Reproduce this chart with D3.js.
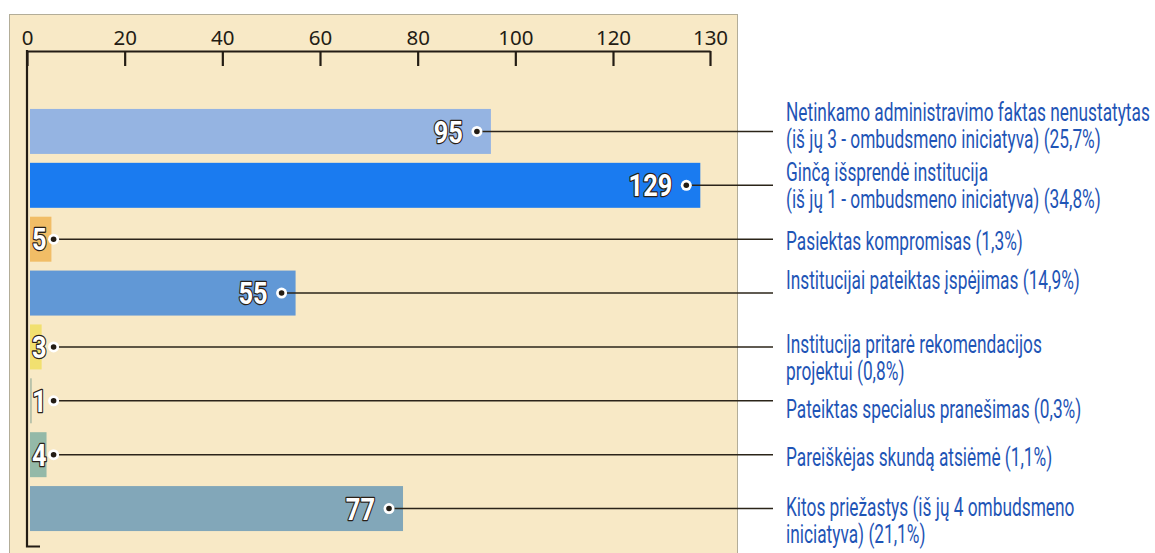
<!DOCTYPE html>
<html>
<head>
<meta charset="utf-8">
<script src="https://cdn.jsdelivr.net/npm/d3@7.9.0/dist/d3.min.js"></script>
<style>
  html, body { margin: 0; padding: 0; background: #fff; }
  svg { display: block; }
  .tick text { font-family: "Noto Sans", sans-serif; font-size: 20.5px; fill: #231c14; }
  .val { font-family: Roboto, "DejaVu Sans", sans-serif; font-weight: bold; font-size: 31px;
         fill: #fff; stroke: #2a2118; stroke-width: 2.6px; paint-order: stroke; stroke-linejoin: round; }
  .lab { font-family: Roboto, "DejaVu Sans", sans-serif; font-size: 25px; fill: #1f55b6; }
</style>
</head>
<body>
<svg id="chart" width="1155" height="553"></svg>
<script>
// data
const categories = [
  'Netinkamo administravimo faktas nenustatytas (iš jų 3 - ombudsmeno iniciatyva) (25,7%)',
  'Ginčą išsprendė institucija (iš jų 1 - ombudsmeno iniciatyva) (34,8%)',
  'Pasiektas kompromisas (1,3%)',
  'Institucijai pateiktas įspėjimas (14,9%)',
  'Institucija pritarė rekomendacijos projektui (0,8%)',
  'Pateiktas specialus pranešimas (0,3%)',
  'Pareiškėjas skundą atsiėmė (1,1%)',
  'Kitos priežastys (iš jų 4 ombudsmeno iniciatyva) (21,1%)'
];
const labelLines = [
  ['Netinkamo administravimo faktas nenustatytas', '(iš jų 3 - ombudsmeno iniciatyva) (25,7%)'],
  ['Ginčą išsprendė institucija', '(iš jų 1 - ombudsmeno iniciatyva) (34,8%)'],
  ['Pasiektas kompromisas (1,3%)'],
  ['Institucijai pateiktas įspėjimas (14,9%)'],
  ['Institucija pritarė rekomendacijos', 'projektui (0,8%)'],
  ['Pateiktas specialus pranešimas (0,3%)'],
  ['Pareiškėjas skundą atsiėmė (1,1%)'],
  ['Kitos priežastys (iš jų 4 ombudsmeno', 'iniciatyva) (21,1%)']
];
const values = [95, 129, 5, 55, 3, 1, 4, 77];
const barColors = ['#95b4e2', '#1a7bf0', '#f1bd66', '#6198d6', '#f1e070', '#b9c2aa', '#94b9a8', '#82a7b9'];
const tickValues = [0, 20, 40, 60, 80, 100, 120, 130];

// layout
const ink = '#231c14';
const labelX = 786, labelRight = 1150, leaderEnd = 773;
// hand placed offsets of the first label line against its leader line
const labelShift = [-19, -13, 2, -13, -3, 8, 3, -1];
const lineGap = 27;
const valSquash = 0.82; // the original uses a condensed face

const svg = d3.select('#chart');

// panel
svg.append('rect')
  .attr('x', 9.5).attr('y', 14.5)
  .attr('width', 728).attr('height', 560)
  .attr('fill', '#f8e9c6')
  .attr('stroke', '#b3ad98').attr('stroke-width', 1);

// the original axis is evenly spaced up to 130, so use a two-piece scale
const x = d3.scaleLinear().domain([0, 120, 130]).range([27, 613, 710]);
const y = d3.scaleBand()
  .domain(categories)
  .range([104.5, 535.5])
  .paddingInner(0.165)
  .paddingOuter(0.0825);

const xAxis = svg.append('g')
  .attr('transform', 'translate(0,51)')
  .call(d3.axisTop(x).tickValues(tickValues).tickFormat(d3.format('d'))
    .tickSizeInner(-15).tickSizeOuter(0).tickPadding(6));
xAxis.selectAll('path, line').attr('stroke', ink).attr('stroke-width', 2.2);

// left frame line with foot
svg.append('path')
  .attr('d', `M${x(0)},50 V546.5 H40`)
  .attr('fill', 'none').attr('stroke', ink).attr('stroke-width', 2.2);

const x0 = x(0) + 3;

const rows = svg.append('g').selectAll('g')
  .data(values.map((v, i) => ({ v, i, cat: categories[i] })))
  .join('g');

rows.append('rect')
  .attr('x', x0)
  .attr('y', d => y(d.cat))
  .attr('width', d => x(d.v) - x0)
  .attr('height', y.bandwidth())
  .attr('fill', d => barColors[d.i]);

const labels = [];
rows.each(function(d) {
  const g = d3.select(this);
  const cy = y(d.cat) + y.bandwidth() / 2;
  const inside = x(d.v) - x0 > 60;
  const vg = g.append('g');
  const t = vg.append('text').attr('class', 'val')
    .attr('dy', '0.36em')
    .text(d.v);
  const w = t.node().getComputedTextLength() * valSquash;
  let dotX;
  if (inside) {
    dotX = x(d.v) - 14;
    vg.attr('transform', `translate(${dotX - 14},${cy}) scale(${valSquash},1)`);
    t.attr('text-anchor', 'end');
  } else {
    vg.attr('transform', `translate(${x0 + 2},${cy}) scale(${valSquash},1)`);
    dotX = x0 + 2 + w + 7;
  }
  g.insert('line', 'g')
    .attr('x1', dotX).attr('x2', leaderEnd)
    .attr('y1', cy).attr('y2', cy)
    .attr('stroke', '#2b2419').attr('stroke-width', 1.5);
  g.append('circle').attr('cx', dotX).attr('cy', cy).attr('r', 5.5).attr('fill', '#fff');
  g.append('circle').attr('cx', dotX).attr('cy', cy).attr('r', 2.8).attr('fill', ink);

  const lg = g.append('g').attr('transform', `translate(${labelX},${cy + labelShift[d.i]})`);
  const lab = lg.append('text').attr('class', 'lab');
  labelLines[d.i].forEach((s, k) => {
    lab.append('tspan').attr('x', 0).attr('dy', k === 0 ? '0.35em' : lineGap).text(s);
  });
  labels.push(lg);
});

// squeeze the labels so the widest line ends at labelRight
const widest = d3.max(svg.selectAll('.lab tspan').nodes(), n => n.getComputedTextLength());
const sx = Math.min(1, (labelRight - labelX) / widest);
labels.forEach(lg => lg.attr('transform', lg.attr('transform') + ` scale(${sx},1)`));
</script>
</body>
</html>
